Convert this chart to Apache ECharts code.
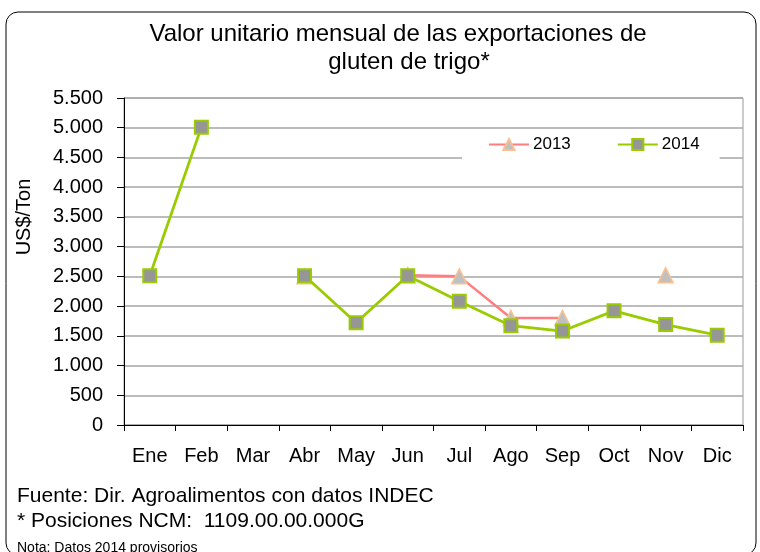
<!DOCTYPE html>
<html style="height: 100%">
<head>
<meta charset="utf-8">
</head>
<body style="height: 100%; margin: 0; background: #fff">
<div id="container" style="width: 760px; height: 552px"></div>
<script type="text/javascript" src="https://cdn.jsdelivr.net/npm/echarts@6/dist/echarts.min.js"></script>
<script type="text/javascript">
// meses
var meses = ['Ene', 'Feb', 'Mar', 'Abr', 'May', 'Jun', 'Jul', 'Ago', 'Sep', 'Oct', 'Nov', 'Dic'];
// valores US$/Ton ('-' = sin dato)
var datos2013 = ['-', '-', '-', 2500, '-', 2520, 2500, 1800, 1800, '-', 2520, '-'];
var datos2014 = [2510, 5010, '-', 2510, 1720, 2510, 2080, 1670, 1580, 1920, 1690, 1510];

var fuente = 'Arial, "Liberation Sans", sans-serif';

var dom = document.getElementById('container');
var myChart = echarts.init(dom);

var option = {
    animation: false,
    backgroundColor: '#fff',
    textStyle: {fontFamily: fuente, color: '#000'},
    title: [
        {
            text: 'Valor unitario mensual de las exportaciones de',
            left: 393,
            top: 17,
            textAlign: 'center',
            textStyle: {fontFamily: fuente, fontSize: 24, fontWeight: 'normal', color: '#000'}
        },
        {
            text: 'gluten de trigo*',
            left: 404,
            top: 45,
            textAlign: 'center',
            textStyle: {fontFamily: fuente, fontSize: 24, fontWeight: 'normal', color: '#000'}
        }
    ],
    legend: {
        left: 462,
        top: 130,
        padding: [6, 20, 6, 26],
        backgroundColor: '#fff',
        itemWidth: 40,
        itemHeight: 14,
        itemGap: 46,
        textStyle: {fontFamily: fuente, fontSize: 17, color: '#000', padding: [0, 0, 0, -1]},
        data: ['2013', '2014']
    },
    grid: {
        left: 124,
        right: 17,
        top: 98,
        bottom: 127,
        show: true,
        borderColor: '#999',
        borderWidth: 1
    },
    xAxis: {
        type: 'category',
        data: meses,
        boundaryGap: true,
        axisLine: {lineStyle: {color: '#000', width: 1}},
        axisTick: {show: true, length: 6, lineStyle: {color: '#000'}},
        axisLabel: {fontFamily: fuente, fontSize: 20, color: '#000', margin: 21}
    },
    yAxis: {
        type: 'value',
        min: 0,
        max: 5500,
        interval: 500,
        axisLine: {show: true, lineStyle: {color: '#000', width: 1}},
        axisTick: {show: true, length: 7, lineStyle: {color: '#000'}},
        axisLabel: {
            fontFamily: fuente, fontSize: 20, color: '#000', margin: 21,
            formatter: function (v) {
                return String(v).replace(/\B(?=(\d{3})+(?!\d))/g, '.');
            }
        },
        splitLine: {lineStyle: {color: '#a6a6a6', width: 1.5}}
    },
    series: [
        {
            name: '2013',
            type: 'line',
            data: datos2013,
            symbol: 'triangle',
            symbolSize: 15,
            lineStyle: {color: '#ff7c80', width: 2.5},
            itemStyle: {color: '#c0c0c0', borderColor: '#fac090', borderWidth: 1.5},
            z: 2
        },
        {
            name: '2014',
            type: 'line',
            data: datos2014,
            symbol: 'rect',
            symbolSize: 13,
            lineStyle: {color: '#99cc00', width: 2.8},
            itemStyle: {color: '#969696', borderColor: '#99cc00', borderWidth: 2},
            z: 3
        }
    ],
    graphic: [
        {
            type: 'rect',
            shape: {x: 6, y: 12, width: 750, height: 543, r: 12},
            style: {fill: 'none', stroke: '#000', lineWidth: 1},
            silent: true
        },
        {
            // titulo del eje Y
            type: 'text',
            x: 24,
            y: 217,
            rotation: Math.PI / 2,
            style: {text: 'US$/Ton', fontFamily: fuente, fontSize: 20, fill: '#000', align: 'center', verticalAlign: 'middle'}
        },
        {
            type: 'text',
            left: 17,
            top: 486,
            style: {text: 'Fuente: Dir. Agroalimentos con datos INDEC', fontFamily: fuente, fontSize: 21, fill: '#000'}
        },
        {
            type: 'text',
            left: 17,
            top: 511,
            style: {text: '* Posiciones NCM:  1109.00.00.000G', fontFamily: fuente, fontSize: 21, fill: '#000'}
        },
        {
            type: 'text',
            left: 17,
            top: 541,
            style: {text: 'Nota: Datos 2014 provisorios', fontFamily: fuente, fontSize: 14, fill: '#000'}
        }
    ]
};

myChart.setOption(option);
</script>
</body>
</html>
